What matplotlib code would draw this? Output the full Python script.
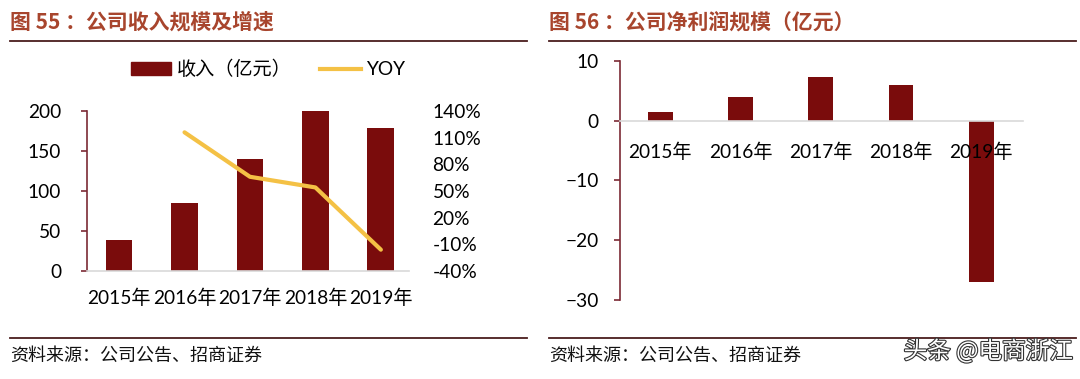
"""Recreate the two-panel revenue / net profit chart (图 55, 图 56)."""

import matplotlib

matplotlib.use("Agg")

from matplotlib import pyplot as plt
from matplotlib import patheffects
from matplotlib.lines import Line2D
from matplotlib.patches import Patch
from matplotlib.ticker import FixedLocator

plt.rcParams["font.family"] = ["Lato", "Noto Sans CJK SC", "DejaVu Sans"]

years = ["2015年", "2016年", "2017年", "2018年", "2019年"]
revenue = [39, 85, 140, 200, 179]            # 收入（亿元）
yoy_years = [1, 2, 3, 4]                    # YOY starts from 2016
yoy = [116, 66, 54, -16]                    # %
net_profit = [1.45, 3.9, 7.3, 5.95, -27.0]  # 亿元

left_ticks = [0, 50, 100, 150, 200]
right_ticks = [-40, -10, 20, 50, 80, 110, 140]
profit_ticks = [-30, -20, -10, 0, 10]

BAR = "#7a0c0c"
YELLOW = "#f4c145"
SPINE = "#7b2a35"
TITLE = "#a8452d"
RULE = "#4a1c1c"
ZERO = "#d9d9d9"
CJK = ["Noto Sans CJK SC", "DejaVu Sans"]
TICK_SIZE = 13.8

W, H = 1080, 379


def px(x0, y0, x1, y1):
    return [x0 / W, 1 - y1 / H, (x1 - x0) / W, (y1 - y0) / H]


fig = plt.figure(figsize=(10.8, 3.79), dpi=100)

# --- left panel: revenue + yoy ---
ax = fig.add_axes(px(87, 111, 409, 271))
ax.bar(range(len(years)), revenue, width=0.41, color=BAR, zorder=2)
ax.set_xlim(-0.49, 4.43)
ax.set_ylim(0, 200)
ax.yaxis.set_major_locator(FixedLocator(left_ticks))
ax.set_xticks(range(len(years)), years)
for side in ("top", "right"):
    ax.spines[side].set_visible(False)
ax.spines["left"].set_color(SPINE)
ax.spines["left"].set_linewidth(1.2)
ax.spines["bottom"].set_color(ZERO)
ax.spines["bottom"].set_linewidth(1.2)
ax.tick_params(axis="y", direction="out", length=4.5, width=1.2, color=SPINE,
               labelsize=TICK_SIZE, pad=14)
ax.tick_params(axis="x", length=0, labelsize=TICK_SIZE, pad=13)

ax2 = ax.twinx()
ax2.plot(yoy_years, yoy, color=YELLOW, linewidth=3, solid_capstyle="round", zorder=3)
ax2.set_ylim(-40, 140)
ax2.yaxis.set_major_locator(FixedLocator(right_ticks))
ax2.set_yticklabels([f"{v}%" for v in right_ticks])
for side in ("top", "right", "left", "bottom"):
    ax2.spines[side].set_visible(False)
ax2.tick_params(axis="y", length=0, labelsize=TICK_SIZE, pad=17)

handles = [Patch(color=BAR), Line2D([0], [0], color=YELLOW, linewidth=3)]
fig.legend(handles, ["收入（亿元）", "YOY"], loc="center", ncol=2,
           bbox_to_anchor=(268 / W, 1 - 69 / H), frameon=False,
           prop={"family": ["Lato", "Noto Sans CJK SC"], "size": 13.8},
           handlelength=2.1, handleheight=0.6, handletextpad=0.3,
           columnspacing=1.5)

# --- right panel: net profit ---
bx = fig.add_axes(px(620, 60.7, 1023, 300))
bx.bar(range(len(years)), net_profit, width=0.31, color=BAR, zorder=1)
bx.set_xlim(-0.5, 4.52)
bx.set_ylim(-30, 10)
bx.yaxis.set_major_locator(FixedLocator(profit_ticks))
bx.set_xticks(range(len(years)), years)
for side in ("top", "right"):
    bx.spines[side].set_visible(False)
bx.spines["bottom"].set_position(("data", 0))
bx.spines["bottom"].set_color(ZERO)
bx.spines["bottom"].set_linewidth(1.2)
bx.spines["left"].set_color(SPINE)
bx.spines["left"].set_linewidth(1.2)
bx.tick_params(axis="y", direction="out", length=4.5, width=1.2, color=SPINE,
               labelsize=TICK_SIZE, pad=11)
bx.tick_params(axis="x", length=0, labelsize=TICK_SIZE, pad=16)
for lbl in bx.get_xticklabels():
    lbl.set_zorder(5)

# --- titles, rules, sources ---
fig.text(10 / W, 1 - 22 / H, "图 55 ：公司收入规模及增速", family=CJK,
         fontsize=15, fontweight="bold", color=TITLE, va="center", ha="left")
fig.text(549 / W, 1 - 22 / H, "图 56 ：公司净利润规模（亿元）", family=CJK,
         fontsize=15, fontweight="bold", color=TITLE, va="center", ha="left")

for x0, x1 in ((10, 527), (549, 1076)):
    fig.add_artist(Line2D([x0 / W, x1 / W], [1 - 40.5 / H] * 2, color=RULE,
                          linewidth=1.3, transform=fig.transFigure))
    fig.add_artist(Line2D([x0 / W, x1 / W], [1 - 338 / H] * 2, color=RULE,
                          linewidth=1.3, transform=fig.transFigure))

fig.text(10 / W, 1 - 356 / H, "资料来源：公司公告、招商证券", family=CJK,
         fontsize=13, color="#111111", va="center", ha="left")
fig.text(549 / W, 1 - 356 / H, "资料来源：公司公告、招商证券", family=CJK,
         fontsize=13, color="#111111", va="center", ha="left")

wm = fig.text(1073 / W, 1 - 351 / H, "头条 @电商浙江", family=CJK,
              fontsize=17, color="white", va="center", ha="right")
wm.set_path_effects([patheffects.withStroke(linewidth=1.6, foreground="#333333")])

fig.savefig("out.png", dpi=100)
